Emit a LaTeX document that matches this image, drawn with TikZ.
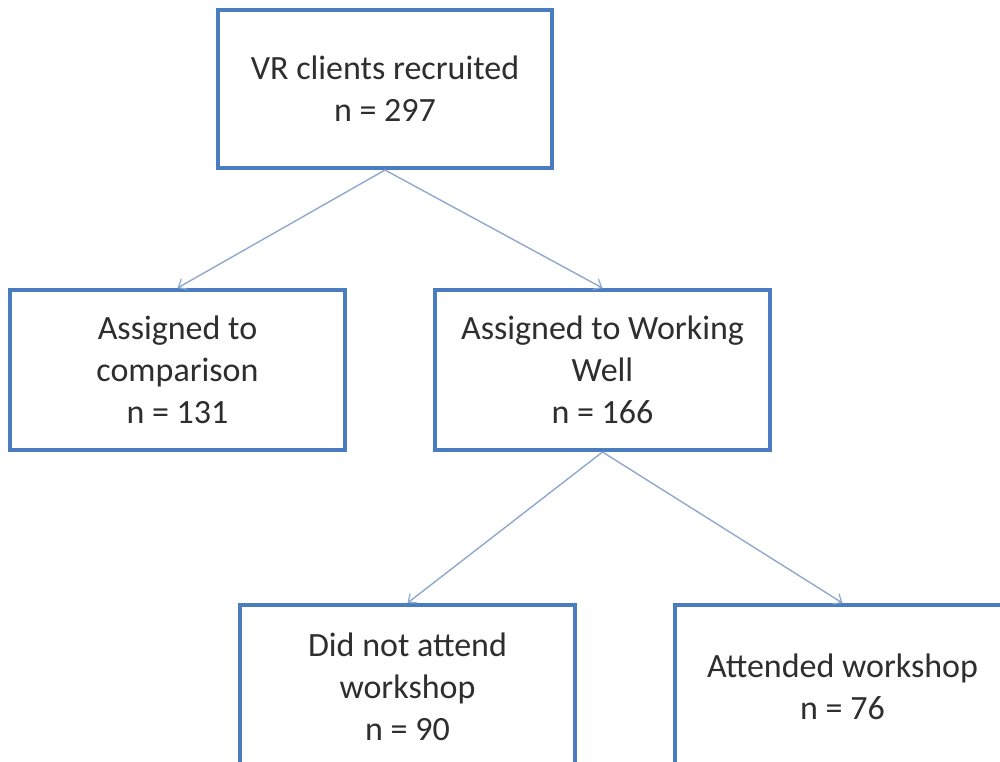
\documentclass[tikz,border=0pt]{standalone}
\usepackage{fontspec}
\setmainfont{Carlito}
\usetikzlibrary{arrows.meta}
\definecolor{boxblue}{HTML}{4A7CC0}
\definecolor{arrowblue}{HTML}{8EA8CE}
\definecolor{txt}{HTML}{2E2E2E}
\tikzset{
  flowbox/.style={draw=boxblue, line width=4pt, fill=white, align=center,
    text=txt, font=\fontsize{34}{42}\selectfont, inner sep=0pt},
  flowarrow/.style={draw=arrowblue, line width=1.4pt,
    -{Straight Barb[length=7pt,width=12pt,line width=1.2pt]}}
}
\begin{document}
\begin{tikzpicture}[x=1pt,y=-1pt]
\useasboundingbox (0,0) rectangle (1000,761);
\clip (0,0) rectangle (1000,761);
\node[flowbox, minimum width=334pt, minimum height=158pt] (top) at (385,89)
  {VR clients recruited\\n = 297};
\node[flowbox, minimum width=335pt, minimum height=160pt] (comp) at (177.5,370)
  {Assigned to\\comparison\\n = 131};
\node[flowbox, minimum width=335pt, minimum height=160pt] (ww) at (602.5,370)
  {Assigned to Working\\Well\\n = 166};
\node[flowbox, minimum width=335pt, minimum height=164pt] (noatt) at (407.5,687)
  {Did not attend\\workshop\\n = 90};
\node[flowbox, minimum width=335pt, minimum height=164pt] (att) at (842.5,687)
  {Attended workshop\\n = 76};
\draw[flowarrow] (top.south) -- (comp.north);
\draw[flowarrow] (top.south) -- (ww.north);
\draw[flowarrow] (ww.south) -- (noatt.north);
\draw[flowarrow] (ww.south) -- (att.north);
\end{tikzpicture}
\end{document}
